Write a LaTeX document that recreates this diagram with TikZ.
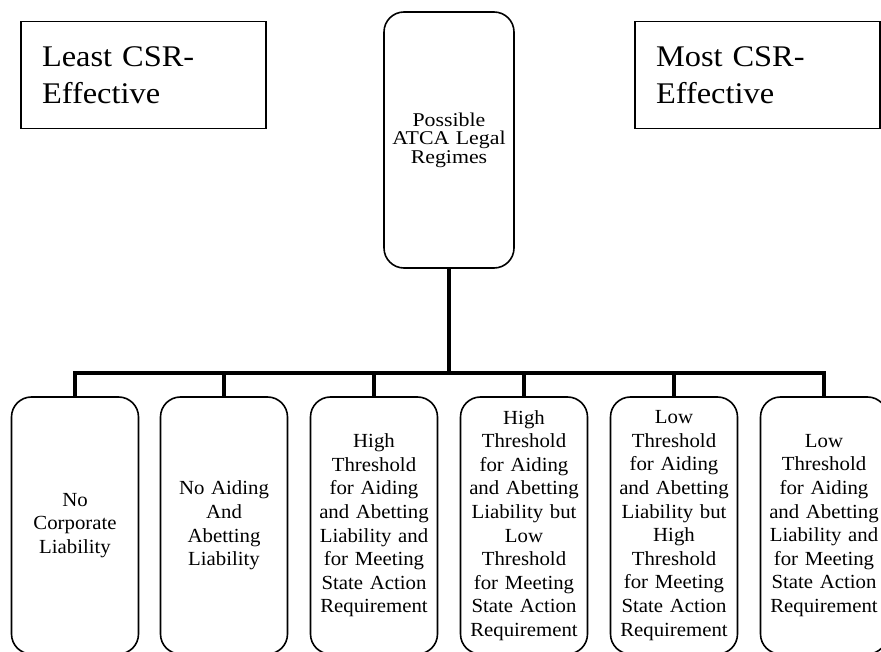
\documentclass[tikz,border=0pt]{standalone}
\usepackage{fontspec}
\setmainfont[FakeStretch=1.04]{Liberation Serif}
\newfontfamily\bigfont[FakeStretch=1.08]{Liberation Serif}
\newfontfamily\midfont[FakeStretch=1.12]{Liberation Serif}
\begin{document}
\begin{tikzpicture}[x=1pt,y=-1pt]
            \useasboundingbox (0,0) rectangle (881,652);
            \tikzstyle{extreme}=[draw,line width=1.4pt,minimum width=245pt,minimum height=107pt,
              inner xsep=21pt,text width=203pt,align=left,font=\bigfont\fontsize{30}{37}\selectfont]
            \tikzstyle{regime}=[draw,rounded corners=20pt,line width=1.6pt,minimum width=127pt,
              minimum height=257pt,inner xsep=2pt,text width=123pt,align=center,
              font=\fontsize{20}{23.6}\selectfont]
            \tikzstyle{branche}=[line width=4.5pt]
            \node[extreme] (least) at (143.5,75) {Least CSR-\\Effective};
            \node[extreme] (most) at (757.5,75) {Most CSR-\\Effective};
            \node[regime,minimum width=130pt,minimum height=256pt,
              font=\midfont\fontsize{19.5}{18.5}\selectfont] (atca) at (449,140)
              {Possible\\ATCA Legal\\Regimes};
            \node[regime] (r1) at (75,525.5) {No\\Corporate\\Liability};
            \node[regime] (r2) at (224,525.5) {No Aiding\\And\\Abetting\\Liability};
            \node[regime] (r3) at (374,525.5) {High\\Threshold\\for Aiding\\and Abetting\\Liability and\\for Meeting\\State Action\\Requirement};
            \node[regime] (r4) at (524,525.5) {High\\Threshold\\for Aiding\\and Abetting\\Liability but\\Low\\Threshold\\for Meeting\\State Action\\Requirement};
            \node[regime] (r5) at (674,525.5) {Low\\Threshold\\for Aiding\\and Abetting\\Liability but\\High\\Threshold\\for Meeting\\State Action\\Requirement};
            \node[regime] (r6) at (824,525.5) {Low\\Threshold\\for Aiding\\and Abetting\\Liability and\\for Meeting\\State Action\\Requirement};
            \coordinate (bar) at (449,373);
            \draw[branche] (atca) -- (bar);
            \draw[branche] (r1.north) -- (r1.north |- bar) -- (r6.north |- bar) -- (r6.north);
            \foreach \i in {2,...,5}
              \draw[branche] (r\i.north) -- (r\i.north |- bar);
        \end{tikzpicture}
\end{document}
